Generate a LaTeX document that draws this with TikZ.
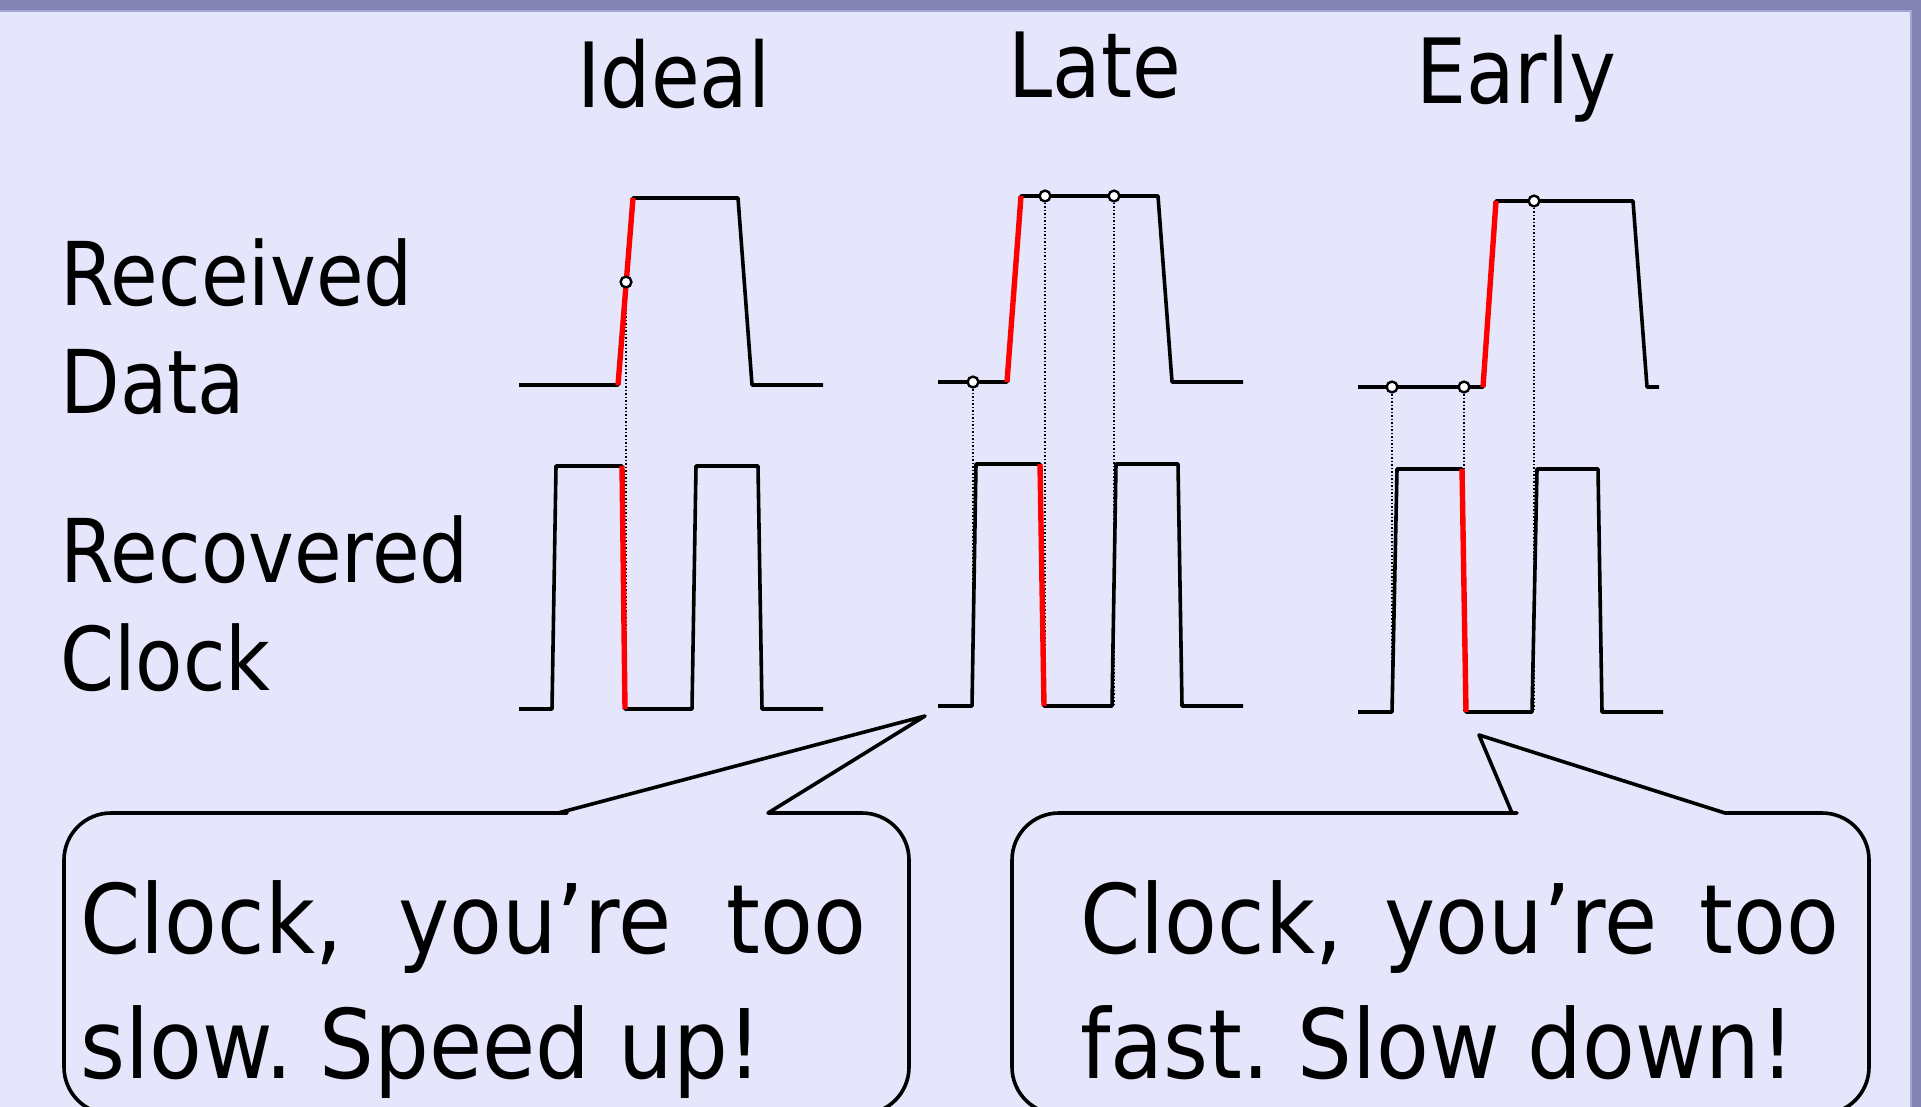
\documentclass[tikz,border=0pt]{standalone}
\usepackage{fontspec}
\setmainfont{DejaVu Sans}[FakeStretch=0.88]
\newfontfamily\bubblefont{DejaVu Sans}[FakeStretch=0.9]
\definecolor{bg}{RGB}{229,229,252}
\definecolor{band}{RGB}{131,131,180}
\definecolor{bandlight}{RGB}{165,165,210}
\definecolor{sigred}{RGB}{255,0,0}
\frenchspacing
\begin{document}
\begin{tikzpicture}[x=0.5pt,y=-0.5pt,
  wave/.style={line width=1.8pt, line join=round},
  redseg/.style={line width=2.7pt, draw=sigred},
  dotline/.style={line width=0.75pt, dash pattern=on 0.75pt off 1pt},
  sample/.style={circle, draw, fill=white, line width=1.2pt, minimum size=5.4pt, inner sep=0pt},
  lbl/.style={font=\fontsize{44}{52}\selectfont, inner sep=0pt, anchor=base west},
  ttl/.style={font=\fontsize{45}{54}\selectfont, inner sep=0pt, anchor=base},
  bubble/.style={line width=1.8pt, line join=round, fill=bg},
  btxt/.style={font=\bubblefont\fontsize{48}{56}\selectfont, inner sep=0pt, anchor=base west}]
\useasboundingbox (0,0) rectangle (1921,1107);
\clip (0,0) rectangle (1921,1107);
\fill[bg] (0,0) rectangle (1921,1107);
\fill[band] (0,0) rectangle (1921,10);
\fill[bandlight] (0,10) rectangle (1911,12);
\fill[bandlight] (1910,10) rectangle (1912,1107);
\fill[band] (1912,0) rectangle (1921,1107);

% titles and labels
\node[ttl] (tideal) at (674,108) {Ideal};
\node[ttl] (tlate) at (1095,98) {Late};
\node[ttl] (tearly) at (1516,104) {Early};
\node[lbl] (l1) at (60,306) {Received};
\node[lbl] (l2) at (60,413) {Data};
\node[lbl] (l3) at (60,582) {Recovered};
\node[lbl] (l4) at (60,690) {Clock};

% dotted sampling lines
\draw[dotline] (626,288) -- (626,709);
\draw[dotline] (973,382) -- (973,706);
\draw[dotline] (1045,196) -- (1045,706);
\draw[dotline] (1114,196) -- (1114,706);
\draw[dotline] (1392,387) -- (1392,712);
\draw[dotline] (1464,387) -- (1464,712);
\draw[dotline] (1534,201) -- (1534,712);

% Ideal
\draw[wave] (519,385) -- (618,385) -- (633,198) -- (738,198) -- (752,385) -- (823,385);
\draw[redseg] (618,385) -- (633,198);
\draw[wave] (519,709) -- (552,709) -- (556,466) -- (622,466) -- (625,709) -- (692,709) -- (696,466) -- (758,466) -- (762,709) -- (823,709);
\draw[redseg] (622,466) -- (625,709);
\node[sample] (si1) at (626,282) {};

% Late
\draw[wave] (938,382) -- (1007,382) -- (1021,196) -- (1158,196) -- (1172,382) -- (1243,382);
\draw[redseg] (1007,382) -- (1021,196);
\draw[wave] (938,706) -- (972,706) -- (976,464) -- (1040,464) -- (1044,706) -- (1112,706) -- (1116,464) -- (1178,464) -- (1182,706) -- (1243,706);
\draw[redseg] (1040,464) -- (1044,706);
\node[sample] (sl1) at (973,382) {};
\node[sample] (sl2) at (1045,196) {};
\node[sample] (sl3) at (1114,196) {};

% Early
\draw[wave] (1358,387) -- (1483,387) -- (1496,201) -- (1633,201) -- (1647,387) -- (1659,387);
\draw[redseg] (1483,387) -- (1496,201);
\draw[wave] (1358,712) -- (1392,712) -- (1397,469) -- (1462,469) -- (1466,712) -- (1532,712) -- (1537,469) -- (1598,469) -- (1602,712) -- (1663,712);
\draw[redseg] (1462,469) -- (1466,712);
\node[sample] (se1) at (1392,387) {};
\node[sample] (se2) at (1464,387) {};
\node[sample] (se3) at (1534,201) {};

% callouts
\draw[bubble] (558,813) -- (925,716) -- (768,813) -- (800,813) [rounded corners=23.5pt] -- (909,813) -- (909,1114) -- (64,1114) -- (64,813) -- (520,813) [sharp corners] -- cycle;
\draw[bubble] (1512,813) -- (1479,735) -- (1725,813) -- (1760,813) [rounded corners=23.5pt] -- (1869,813) -- (1869,1114) -- (1012,1114) -- (1012,813) -- (1470,813) [sharp corners] -- cycle;

\node[btxt] (c1a) at (80,953) {\makebox[393pt][s]{Clock, you’re too}};
\node[btxt] (c1b) at (80,1078) {slow. Speed up!};
\node[btxt] (c2a) at (1080,953) {\makebox[379.5pt][s]{Clock, you’re too}};
\node[btxt] (c2b) at (1080,1078) {fast. Slow down!};
\end{tikzpicture}
\end{document}
